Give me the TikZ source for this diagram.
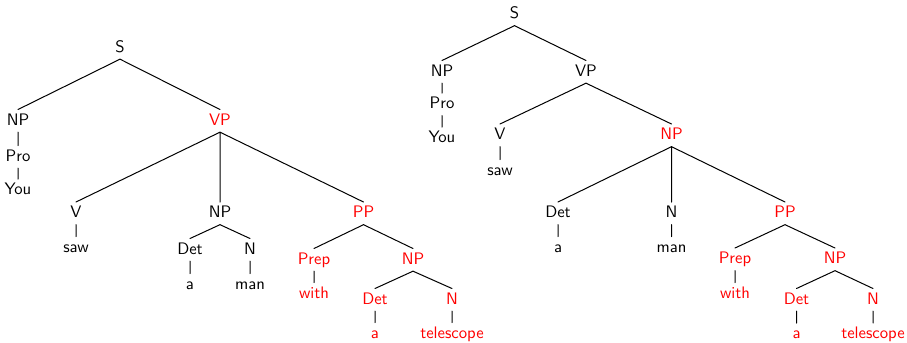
\documentclass[tikz,border=0pt]{standalone}
\begin{document}
\begin{tikzpicture}[x=0.6pt,y=-0.6pt,font=\sffamily,line width=0.6pt,line join=round,line cap=round,
	w/.style={anchor=base,inner sep=2pt,text height=7pt,text depth=2pt},hl/.style={w,text=red}]
	\useasboundingbox (0,0) rectangle (907,342);
	% first parse
	\node[w] (Sa) at (120,52) {S};
	\node[w] (NPa) at (18,125) {NP};
	\node[w] (Proa) at (18,161) {Pro};
	\node[w] (Youa) at (18,194.5) {You};
	\node[hl] (VPa) at (220,125) {VP};
	\node[w] (Va) at (76,217.5) {V};
	\node[w] (sawa) at (76,252) {saw};
	\node[w] (NPb) at (220,217.5) {NP};
	\node[w] (Deta) at (190,254) {Det};
	\node[w] (aa) at (190,289) {a};
	\node[w] (Na) at (250,254) {N};
	\node[w] (mana) at (250,289) {man};
	\node[hl] (PPa) at (363.5,217.5) {PP};
	\node[hl] (Prepa) at (314,264) {Prep};
	\node[hl] (witha) at (314,298) {with};
	\node[hl] (NPc) at (413,264) {NP};
	\node[hl] (Detb) at (375,304) {Det};
	\node[hl] (ab) at (375,338) {a};
	\node[hl] (Nb) at (452,304) {N};
	\node[hl] (telea) at (452,338) {telescope};
	\draw (Sa.south)--(NPa.north) (NPa.south)--(Proa.north) (Proa.south)--(Youa.north) (Sa.south)--(VPa.north);
	\draw (VPa.south)--(Va.north) (Va.south)--(sawa.north) (VPa.south)--(NPb.north) (VPa.south)--(PPa.north);
	\draw (NPb.south)--(Deta.north) (Deta.south)--(aa.north) (NPb.south)--(Na.north) (Na.south)--(mana.north);
	\draw (PPa.south)--(Prepa.north) (Prepa.south)--(witha.north) (PPa.south)--(NPc.north);
	\draw (NPc.south)--(Detb.north) (Detb.south)--(ab.north) (NPc.south)--(Nb.north) (Nb.south)--(telea.north);
	% second parse
	\node[w] (Sb) at (514.5,18.5) {S};
	\node[w] (NPd) at (442,76) {NP};
	\node[w] (Prob) at (442,108.5) {Pro};
	\node[w] (Youb) at (442,142.5) {You};
	\node[w] (VPb) at (586,76) {VP};
	\node[w] (Vb) at (500,139.5) {V};
	\node[w] (sawb) at (500,175) {saw};
	\node[hl] (NPe) at (671.5,139.5) {NP};
	\node[w] (Detc) at (558,217.5) {Det};
	\node[w] (ac) at (558,252) {a};
	\node[w] (Nc) at (671.5,217.5) {N};
	\node[w] (manb) at (671.5,252) {man};
	\node[hl] (PPb) at (785,217.5) {PP};
	\node[hl] (Prepb) at (735,263.5) {Prep};
	\node[hl] (withb) at (735,298) {with};
	\node[hl] (NPf) at (835,263.5) {NP};
	\node[hl] (Detd) at (796.5,304) {Det};
	\node[hl] (ad) at (796.5,338.5) {a};
	\node[hl] (Nd) at (873,304) {N};
	\node[hl] (teleb) at (873,338.5) {telescope};
	\draw (Sb.south)--(NPd.north) (NPd.south)--(Prob.north) (Prob.south)--(Youb.north) (Sb.south)--(VPb.north);
	\draw (VPb.south)--(Vb.north) (Vb.south)--(sawb.north) (VPb.south)--(NPe.north);
	\draw (NPe.south)--(Detc.north) (Detc.south)--(ac.north) (NPe.south)--(Nc.north) (Nc.south)--(manb.north) (NPe.south)--(PPb.north);
	\draw (PPb.south)--(Prepb.north) (Prepb.south)--(withb.north) (PPb.south)--(NPf.north);
	\draw (NPf.south)--(Detd.north) (Detd.south)--(ad.north) (NPf.south)--(Nd.north) (Nd.south)--(teleb.north);
\end{tikzpicture}
\end{document}
